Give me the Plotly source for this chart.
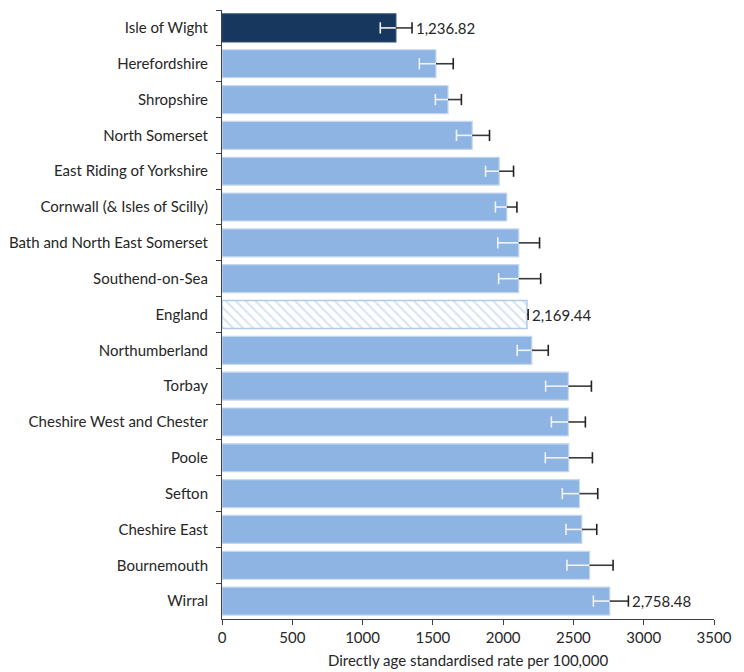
import plotly.graph_objects as go

areas = ["Isle of Wight", "Herefordshire", "Shropshire", "North Somerset",
         "East Riding of Yorkshire", "Cornwall (& Isles of Scilly)",
         "Bath and North East Somerset", "Southend-on-Sea", "England",
         "Northumberland", "Torbay", "Cheshire West and Chester", "Poole",
         "Sefton", "Cheshire East", "Bournemouth", "Wirral"]
rates = [1236.82, 1522, 1608, 1780, 1972, 2026, 2111, 2111, 2169.44,
         2204, 2464, 2464, 2467, 2543, 2560, 2615, 2758.48]
lower = [1126, 1404, 1518, 1668, 1875, 1945, 1962, 1968, 2160,
         2100, 2302, 2343, 2300, 2421, 2447, 2454, 2642]
upper = [1352, 1645, 1703, 1903, 2074, 2098, 2259, 2267, 2178,
         2321, 2628, 2585, 2635, 2673, 2666, 2782, 2891]
label_areas = ["Isle of Wight", "England", "Wirral"]
highlight_area = "Isle of Wight"
benchmark_area = "England"
x_ticks = [0, 500, 1000, 1500, 2000, 2500, 3000, 3500]

FONT = "Lato"
FS = 15
DARK = "#17375E"
LIGHT = "#8EB4E3"
HATCH = "#B3CAE6"

fig = go.Figure()

# ordinary bars (benchmark excluded)
plain_x = [r if a != benchmark_area else None for a, r in zip(areas, rates)]
plain_col = [DARK if a == highlight_area else LIGHT for a in areas]
plain_edge = ["#2A4A70" if a == highlight_area else "#C5D8F0" for a in areas]
fig.add_trace(go.Bar(
    x=plain_x, y=areas, orientation="h",
    marker=dict(color=plain_col, line=dict(color=plain_edge, width=1.2)),
    hoverinfo="skip", showlegend=False))

# benchmark bar with hatch
bench_x = [r if a == benchmark_area else None for a, r in zip(areas, rates)]
fig.add_trace(go.Bar(
    x=bench_x, y=areas, orientation="h",
    marker=dict(color="white", line=dict(color=HATCH, width=1.5),
                pattern=dict(shape="\\", fgcolor=HATCH, bgcolor="white",
                             size=7, solidity=0.3)),
    hoverinfo="skip", showlegend=False))

# lower (inside bar) part of the CI: white
fig.add_trace(go.Scatter(
    x=rates, y=areas, mode="markers", marker=dict(size=0.1, color="rgba(0,0,0,0)"),
    error_x=dict(type="data", symmetric=False, array=[0] * len(rates),
                 arrayminus=[r - l for r, l in zip(rates, lower)],
                 color="#F2F2F2", thickness=1.6, width=0),
    showlegend=False, hoverinfo="skip"))
fig.add_trace(go.Scatter(
    x=lower, y=areas, mode="markers",
    marker=dict(symbol="line-ns", size=8, line=dict(color="#F2F2F2", width=1.6)),
    showlegend=False, hoverinfo="skip"))
# upper part of the CI: dark
fig.add_trace(go.Scatter(
    x=rates, y=areas, mode="markers", marker=dict(size=0.1, color="rgba(0,0,0,0)"),
    error_x=dict(type="data", symmetric=False,
                 array=[u - r for u, r in zip(upper, rates)],
                 arrayminus=[0] * len(rates),
                 color="#3A3A3A", thickness=1.6, width=0),
    showlegend=False, hoverinfo="skip"))
fig.add_trace(go.Scatter(
    x=upper, y=areas, mode="markers",
    marker=dict(symbol="line-ns", size=8, line=dict(color="#222222", width=1.6)),
    showlegend=False, hoverinfo="skip"))

for a, r, u in zip(areas, rates, upper):
    if a in label_areas:
        fig.add_annotation(x=u, y=a, text=f"{r:,.2f}", showarrow=False,
                           xanchor="left", xshift=2,
                           font=dict(family=FONT, size=FS, color="#262626"))

n = len(areas)
fig.update_layout(
    width=744, height=672,
    margin=dict(l=214, r=38, t=2, b=61),
    paper_bgcolor="white", plot_bgcolor="white",
    barmode="overlay", bargap=0.22,
    font=dict(family=FONT, size=FS, color="#262626"),
    xaxis=dict(range=[0, 3500], tickvals=x_ticks, ticktext=[str(v) for v in x_ticks],
               showgrid=False, zeroline=False, showline=True, linecolor="#404040",
               linewidth=1, ticks="outside", ticklen=5, tickcolor="#404040",
               tickfont=dict(family=FONT, size=FS, color="#262626"),
               title=dict(text="Directly age standardised rate per 100,000",
                          font=dict(family=FONT, size=FS, color="#262626"), standoff=10)),
    yaxis=dict(range=[n - 0.5, -0.5], autorange=False,
               categoryorder="array", categoryarray=areas,
               showgrid=False, showline=True, linecolor="#404040", linewidth=1,
               ticks="outside", ticklen=5, tickcolor="#404040", tickson="boundaries",
               ticklabelstandoff=10,
               tickfont=dict(family=FONT, size=FS, color="#262626")),
)

fig.write_html("out.html")
